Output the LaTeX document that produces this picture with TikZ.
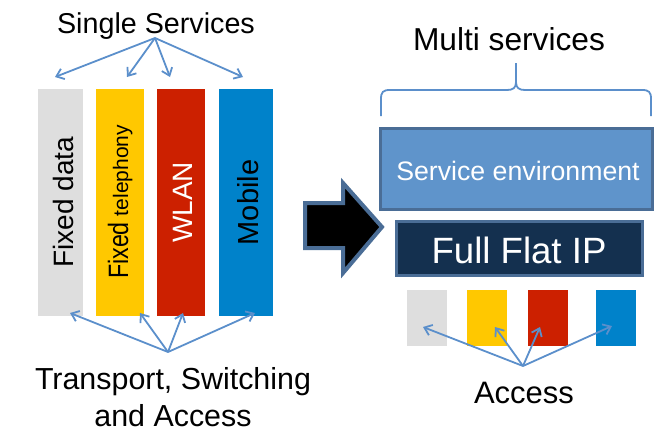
\documentclass[tikz,border=0pt]{standalone}
\usepackage{fontspec}
\setmainfont{Liberation Sans}
\usetikzlibrary{arrows.meta}
\definecolor{cgray}{HTML}{DEDEDE}
\definecolor{cyellow}{HTML}{FFC800}
\definecolor{cred}{HTML}{CC2000}
\definecolor{cblue}{HTML}{0082CA}
\definecolor{arrblue}{HTML}{5B8FCB}
\definecolor{envfill}{HTML}{5F94CB}
\definecolor{bordblue}{HTML}{4A6D96}
\definecolor{navy}{HTML}{14304F}
\tikzset{
  col/.style={draw=none, minimum width=#1, minimum height=227pt, inner sep=0pt},
  acc/.style={draw=none, minimum width=40pt, minimum height=56pt, inner sep=0pt},
  conn/.style={draw=arrblue, line width=1.8pt, -{Straight Barb[length=7pt,width=11pt,line width=1.8pt]}},
  vtext/.style={rotate=90, anchor=base, inner sep=0pt},
  lbl/.style={anchor=base, inner sep=0pt},
}
\begin{document}
\begin{tikzpicture}[x=1pt,y=-1pt]
\useasboundingbox (0,0) rectangle (660,431);
% columns
\node[col=45pt, fill=cgray] (c1) at (60.5,202.5) {};
\node[col=48pt, fill=cyellow] (c2) at (120,202.5) {};
\node[col=48pt, fill=cred] (c3) at (181,202.5) {};
\node[col=54pt, fill=cblue] (c4) at (246,202.5) {};
\node[vtext] (t1) at (73,202) {\fontsize{28}{32}\selectfont Fixed data};
\node[vtext] (t2) at (128,202) {\scalebox{0.83}[1]{\fontsize{28}{32}\selectfont Fixed}\hspace{6pt}{\fontsize{21}{24}\selectfont telephony}};
\node[vtext, text=white] (t3) at (192,202.5) {\fontsize{28}{32}\selectfont WLAN};
\node[vtext] (t4) at (258,202.5) {\fontsize{29}{32}\selectfont Mobile};
% Single services
\node[lbl] (ss) at (156,33) {\fontsize{28.7}{32}\selectfont Single Services};
\coordinate (ssO) at (155,38);
\coordinate (s1) at (55,77);
\coordinate (s2) at (127,77);
\coordinate (s3) at (170,77);
\coordinate (s4) at (243,77);
\foreach \t in {s1,s2,s3,s4} \draw[conn] (ssO) -- (\t);
% transport
\node[anchor=base, inner sep=0pt, align=center, font=\fontsize{30.4}{37}\selectfont] (tr) at (173,426) {Transport, Switching\\and Access};
\coordinate (trO) at (168,352);
\coordinate (b1) at (70,313);
\coordinate (b2) at (140,313);
\coordinate (b3) at (183,313);
\coordinate (b4) at (255,313);
\foreach \t in {b1,b2,b3,b4} \draw[conn] (trO) -- (\t);
% big arrow
\draw[fill=black, draw=bordblue, line width=4pt, line join=miter]
  (305,203) -- (343,203) -- (343,183) -- (382,227) -- (343,273) -- (343,248) -- (305,248) -- cycle;
% multi services
\node[lbl] (ms) at (509,50) {\fontsize{31.7}{36}\selectfont Multi services};
\draw[draw=arrblue, line width=1.8pt]
  (381,116) -- (381,99) .. controls (381,92) and (383,90) .. (390,90) -- (507,90)
  .. controls (513,90) and (516,88) .. (516,82) -- (516,63)
  (651,116) -- (651,99) .. controls (651,92) and (649,90) .. (642,90) -- (525,90)
  .. controls (519,90) and (516,88) .. (516,82);
% boxes
\node[draw=bordblue, line width=3pt, fill=envfill, minimum width=272pt, minimum height=81pt, inner sep=0pt] (env) at (516,168.5) {};
\node[lbl, text=white] (envt) at (518,180) {\fontsize{26.7}{30}\selectfont Service environment};
\node[draw=bordblue, line width=3pt, fill=navy, minimum width=246pt, minimum height=54pt, inner sep=0pt] (ip) at (519,248) {};
\node[lbl, text=white] (ipt) at (519,263) {\fontsize{36.6}{40}\selectfont Full Flat IP};
% access squares
\node[acc, fill=cgray] (a1) at (427,318) {};
\node[acc, fill=cyellow] (a2) at (487,318) {};
\node[acc, fill=cred] (a3) at (548,318) {};
\node[acc, fill=cblue] (a4) at (616,318) {};
\node[lbl] (acct) at (524,403) {\fontsize{31}{36}\selectfont Access};
\coordinate (aO) at (523,366);
\coordinate (p1) at (423,327);
\coordinate (p2) at (495,327);
\coordinate (p3) at (540,327);
\coordinate (p4) at (612,326);
\foreach \t in {p1,p2,p3,p4} \draw[conn] (aO) -- (\t);
\end{tikzpicture}
\end{document}
